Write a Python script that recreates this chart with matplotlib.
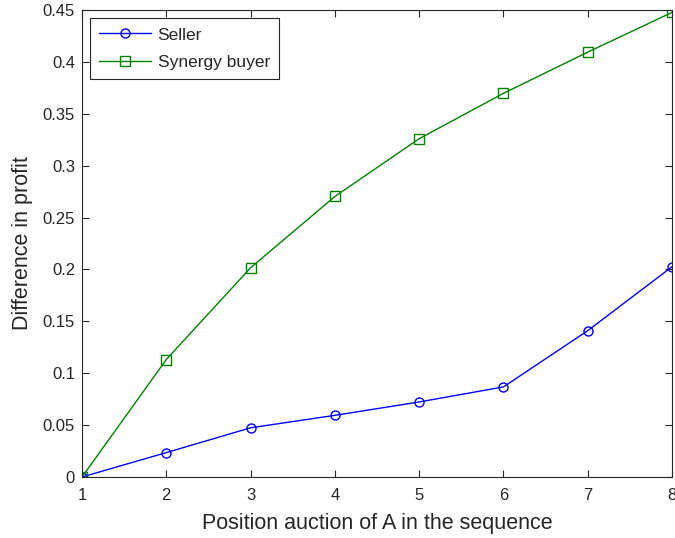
import matplotlib
matplotlib.use("Agg")
import matplotlib.pyplot as plt

plt.rcParams['font.family'] = ['Liberation Sans', 'DejaVu Sans']

positions = [1, 2, 3, 4, 5, 6, 7, 8]
seller = [0.0, 0.0235, 0.0474, 0.0594, 0.0723, 0.0868, 0.141, 0.2026]
synergy = [0.0, 0.1132, 0.2016, 0.2703, 0.326, 0.3697, 0.4094, 0.4477]
yticks = [0, 0.05, 0.1, 0.15, 0.2, 0.25, 0.3, 0.35, 0.4, 0.45]
ytick_labels = ['0', '0.05', '0.1', '0.15', '0.2', '0.25', '0.3', '0.35', '0.4', '0.45']

fig = plt.figure(figsize=(6.75, 5.38), dpi=100)
ax = fig.add_axes([0.1215, 0.1134, 0.8741, 0.868])

ax.plot(positions, seller, color='#0000ff', marker='o', markersize=6.5,
        markerfacecolor='none', markeredgewidth=1.0, linewidth=1.0, label='Seller')
ax.plot(positions, synergy, color='#008000', marker='s', markersize=6.5,
        markerfacecolor='none', markeredgewidth=1.0, linewidth=1.0, label='Synergy buyer')

ax.set_xlim(1, 8)
ax.set_ylim(0, 0.45)
ax.set_xticks(positions)
ax.set_yticks(yticks)
ax.set_yticklabels(ytick_labels)
ax.tick_params(direction='in', top=True, right=True, length=5, labelsize=12, width=0.8,
               colors='#262626')
ax.tick_params(axis='x', pad=8)
ax.tick_params(axis='y', pad=5)
for s in ax.spines.values():
    s.set_linewidth(0.8)
    s.set_color('#262626')

ax.set_xlabel('Position auction of A in the sequence', fontsize=15.5, labelpad=7,
              color='#262626')
ax.set_ylabel('Difference in profit', fontsize=15.5, labelpad=7, color='#262626')

leg = ax.legend(loc='upper left', fontsize=12.5, frameon=True, fancybox=False,
                edgecolor='#262626', framealpha=1, borderaxespad=0.45,
                handlelength=3.0, handletextpad=0.35, borderpad=0.55, labelspacing=0.7)
leg.get_frame().set_linewidth(0.8)
for t in leg.get_texts():
    t.set_color('#262626')

fig.savefig('out.png', dpi=100)
